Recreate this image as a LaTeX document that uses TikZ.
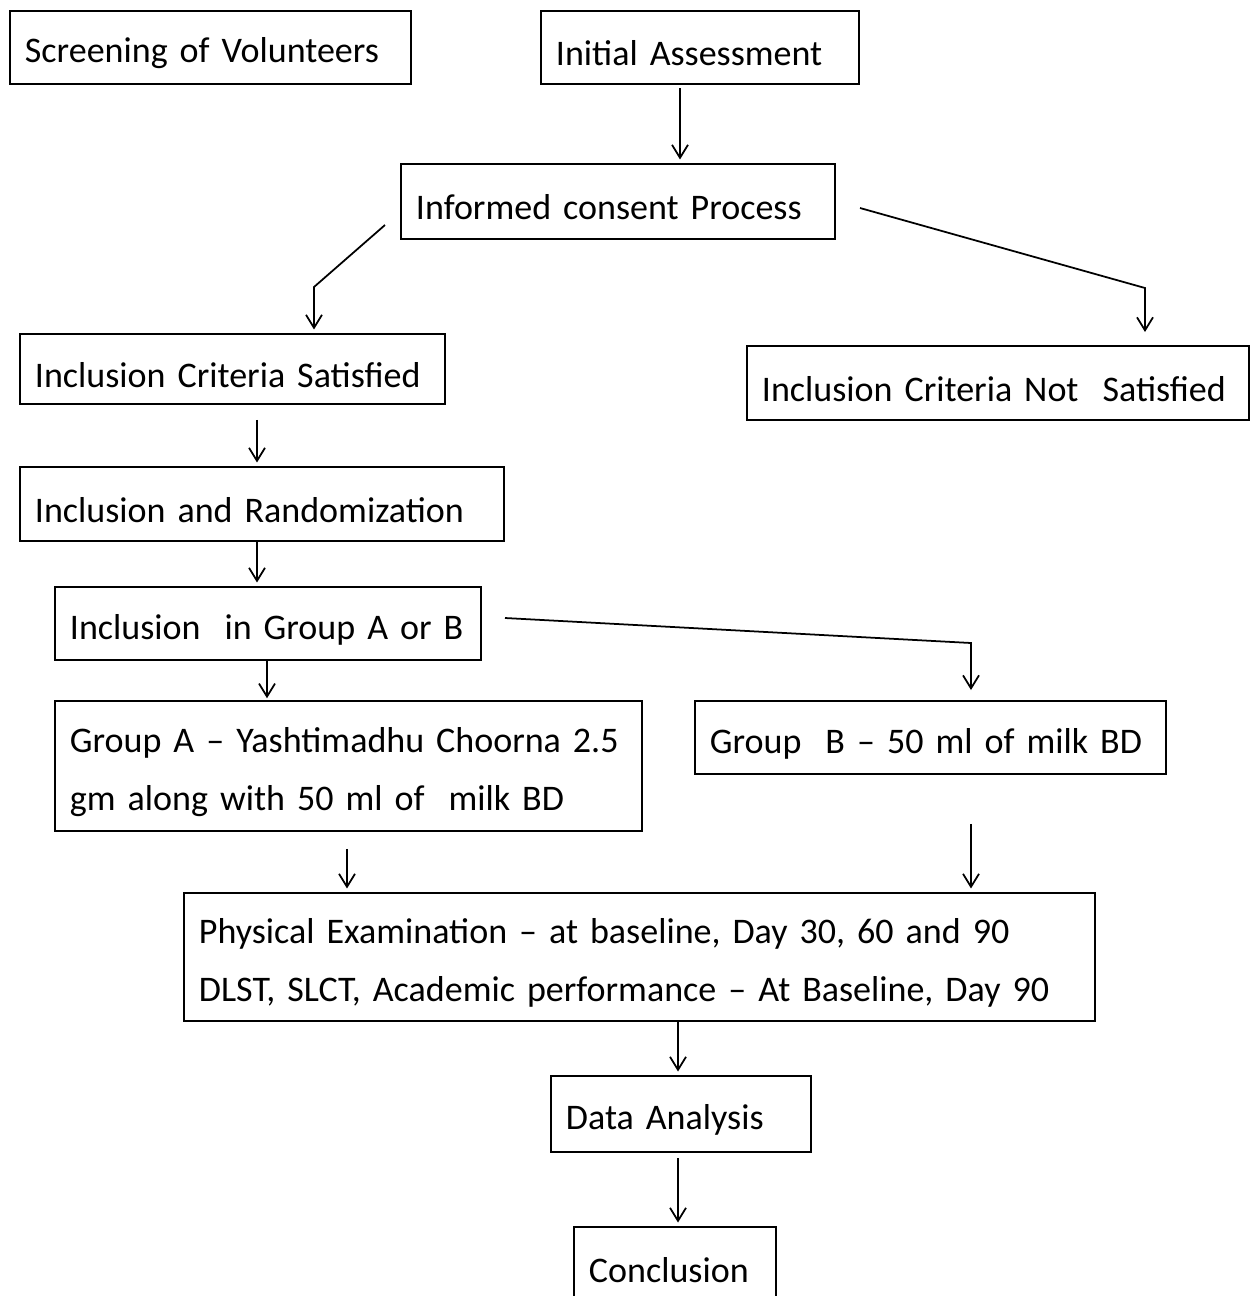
\documentclass[tikz,border=0pt]{standalone}
\usepackage{fontspec}
\setmainfont{Carlito}
\usepackage{tikz}
\usetikzlibrary{arrows.meta, positioning, calc}

\begin{document}
\begin{tikzpicture}[
    x=0.02cm, y=-0.02cm,
    block/.style={rectangle, draw, line width=1.1pt, anchor=north west, align=left, inner xsep=0.3cm, inner ysep=0pt, font=\fontsize{20.5}{33}\selectfont, execute at begin node={\hyphenpenalty=10000\rule{0pt}{0.74cm}}},
    arrow/.style={-{Straight Barb[length=0.26cm, width=0.32cm]}, line width=1pt}
]
\useasboundingbox (0,0) rectangle (1256,1296);
\clip (0,0) rectangle (1256,1296);

% Boxes
\node[block, text width=7.42cm, minimum height=1.46cm] (screen) at (9,10) {Screening of Volunteers};
\node[block, text width=5.76cm, minimum height=1.46cm] (init) at (540,10) {Initial Assessment};
\node[block, text width=8.08cm, minimum height=1.5cm] (consent) at (400,163) {Informed consent Process};
\node[block, text width=7.9cm, minimum height=1.4cm] (incsat) at (19,333) {Inclusion Criteria Satisfied};
\node[block, text width=9.44cm, minimum height=1.48cm] (notsat) at (746,345) {Inclusion Criteria Not\ \ Satisfied};
\node[block, text width=9.08cm, minimum height=1.48cm] (random) at (19,466) {Inclusion and Randomization};
\node[block, text width=7.92cm, minimum height=1.46cm] (group) at (54,586) {Inclusion\ \ in Group A or B};
\node[block, text width=11.14cm, minimum height=2.6cm] (groupa) at (54,700) {Group A -- Yashtimadhu Choorna 2.5\\gm along with 50 ml of\ \ milk BD};
\node[block, text width=8.82cm, minimum height=1.46cm] (groupb) at (694,700) {Group\ \ B -- 50 ml of milk BD};
\node[block, text width=17.62cm, minimum height=2.56cm] (exam) at (183,892) {Physical Examination -- at baseline, Day 30, 60 and 90\\DLST, SLCT, Academic performance -- At Baseline, Day 90};
\node[block, text width=4.6cm, minimum height=1.52cm] (data) at (550,1075) {Data Analysis};
\node[block, text width=3.44cm, minimum height=1.5cm] (concl) at (573,1226) {Conclusion};

% Bend points
\coordinate (ax1) at (680,0);
\coordinate (ax2) at (257,0);
\coordinate (ax3) at (267,0);
\coordinate (ax4) at (347,0);
\coordinate (ax5) at (971,0);
\coordinate (ax6) at (678,0);
\coordinate (left1) at (385,225);
\coordinate (left2) at (314,287);
\coordinate (right1) at (860,208);
\coordinate (right2) at (1145,288);
\coordinate (split1) at (505,618);
\coordinate (split2) at (971,643);

% Arrows
\draw[arrow, shorten <=2pt, shorten >=2pt] (init.south -| ax1) -- (consent.north -| ax1);
\draw[arrow, shorten >=2pt] (left1) -- (left2) -- (left2 |- incsat.north);
\draw[arrow, shorten >=0.26cm] (right1) -- (right2) -- (right2 |- notsat.north);
\draw[arrow, shorten <=0.3cm, shorten >=2pt] (incsat.south -| ax2) -- (random.north -| ax2);
\draw[arrow, shorten >=2pt] (random.south -| ax2) -- (group.north -| ax2);
\draw[arrow, shorten >=1pt] (group.south -| ax3) -- (groupa.north -| ax3);
\draw[arrow, shorten >=0.2cm] (split1) -- (split2) -- (split2 |- groupb.north);
\draw[arrow, shorten <=0.34cm, shorten >=2pt] (groupa.south -| ax4) -- (exam.north -| ax4);
\draw[arrow, shorten <=0.98cm, shorten >=2pt] (groupb.south -| ax5) -- (exam.north -| ax5);
\draw[arrow, shorten >=2pt] (exam.south -| ax6) -- (data.north -| ax6);
\draw[arrow, shorten <=3pt, shorten >=2pt] (data.south -| ax6) -- (concl.north -| ax6);
\end{tikzpicture}
\end{document}
